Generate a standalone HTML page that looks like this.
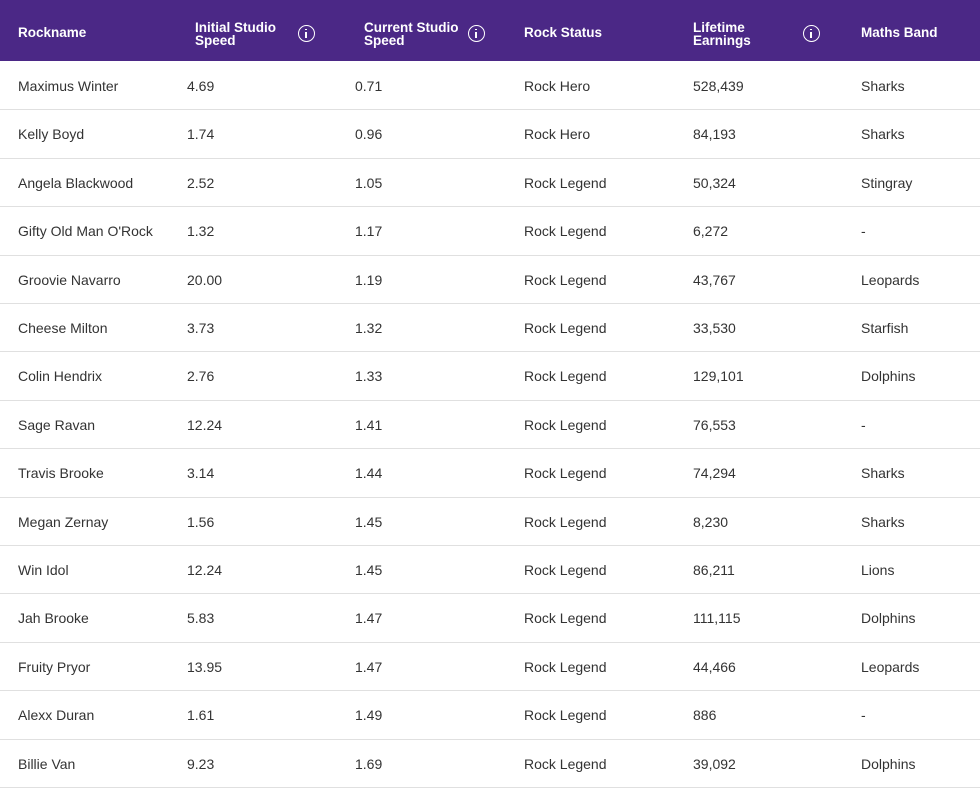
<!DOCTYPE html>
<html><head><meta charset="utf-8"><style>
*{margin:0;padding:0;box-sizing:border-box}
body{width:980px;height:787px;overflow:hidden;background:#fff;font-family:"Liberation Sans",Arial,sans-serif;color:#333}
.hd{position:absolute;left:0;top:0;width:980px;height:61px;background:#4b2886;color:#fff;font-weight:bold;font-size:13.5px}
.hd div{position:absolute;line-height:13px}
.ic{position:absolute;width:17px;height:17px;border:1.6px solid #fff;border-radius:50%;top:25px}
.ic:before{content:"";position:absolute;left:6.2px;top:6px;width:1.8px;height:6px;background:#fff}
.ic:after{content:"";position:absolute;left:6.2px;top:2.6px;width:1.8px;height:1.8px;background:#fff}
.row{position:absolute;left:0;width:980px;height:48.4px;border-bottom:1px solid #e0e0e0;font-size:14px}
.row div{position:absolute;top:0;line-height:48px}
</style></head><body>
<div class="hd">
<div style="left:18px;top:26px">Rockname</div>
<div style="left:195px;top:21px">Initial Studio<br>Speed</div><span class="ic" style="left:298px"></span>
<div style="left:364px;top:21px">Current Studio<br>Speed</div><span class="ic" style="left:468px"></span>
<div style="left:524px;top:26px">Rock Status</div>
<div style="left:693px;top:21px">Lifetime<br>Earnings</div><span class="ic" style="left:803px"></span>
<div style="left:861px;top:26px">Maths Band</div>
</div>
<div id="t"></div>
<script>
var d=[["Maximus Winter","4.69","0.71","Rock Hero","528,439","Sharks"],["Kelly Boyd","1.74","0.96","Rock Hero","84,193","Sharks"],["Angela Blackwood","2.52","1.05","Rock Legend","50,324","Stingray"],["Gifty Old Man O'Rock","1.32","1.17","Rock Legend","6,272","-"],["Groovie Navarro","20.00","1.19","Rock Legend","43,767","Leopards"],["Cheese Milton","3.73","1.32","Rock Legend","33,530","Starfish"],["Colin Hendrix","2.76","1.33","Rock Legend","129,101","Dolphins"],["Sage Ravan","12.24","1.41","Rock Legend","76,553","-"],["Travis Brooke","3.14","1.44","Rock Legend","74,294","Sharks"],["Megan Zernay","1.56","1.45","Rock Legend","8,230","Sharks"],["Win Idol","12.24","1.45","Rock Legend","86,211","Lions"],["Jah Brooke","5.83","1.47","Rock Legend","111,115","Dolphins"],["Fruity Pryor","13.95","1.47","Rock Legend","44,466","Leopards"],["Alexx Duran","1.61","1.49","Rock Legend","886","-"],["Billie Van","9.23","1.69","Rock Legend","39,092","Dolphins"]];
var x=[18,187,355,524,693,861],h="";
d.forEach(function(r,i){h+='<div class="row" style="top:'+(62+i*48.4)+'px">';r.forEach(function(c,j){h+='<div style="left:'+x[j]+'px">'+c+'</div>'});h+='</div>'});
document.getElementById("t").innerHTML=h;
</script>
</body></html>
